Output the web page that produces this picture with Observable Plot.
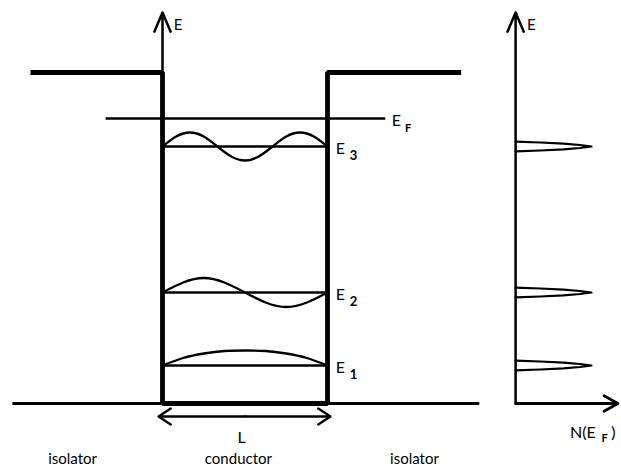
<!DOCTYPE html>
<html><head><meta charset="utf-8">
<script src="https://cdn.jsdelivr.net/npm/d3@7"></script>
<script src="https://cdn.jsdelivr.net/npm/@observablehq/plot@0.6"></script>
<style>body{margin:0;background:#fff}</style>
</head><body><div id="chart"></div>
<script>
// ---- Data (diagram units: well spans x = 0..L, energy in arbitrary units) ----
const wellLeft = 0;
const wellRight = 10;            // L
const barrierEnergy = 33.1;      // height of isolator barrier
const fermiEnergy = 28.5;        // E_F
const energyAxisTop = 39.1;
const isolatorExtent = [-8.0, 18.1];   // barrier tops, left start / right end
const groundExtent = [-9.1, 19.2];     // outside bottom lines
const fermiExtent = [-3.45, 13.5];

const levelNames = ["1", "2", "3"];
const levelEnergy = [3.8, 11.1, 25.7];

// wavefunction samples across the well (x, displacement above level)
const waveX1 = [0, 1.25, 2.5, 3.75, 5, 6.25, 7.5, 8.75, 10];
const wave1  = [0, 0.75, 1.2, 1.45, 1.5, 1.45, 1.2, 0.75, 0];
const waveX2 = [0, 1.25, 2.5, 3.75, 5, 6.25, 7.5, 8.75, 10];
const wave2  = [0, 1.0, 1.45, 1.0, 0, -1.0, -1.45, -1.0, 0];
const waveX3 = [0, 0.83, 1.67, 2.5, 3.33, 4.17, 5, 5.83, 6.67, 7.5, 8.33, 9.17, 10];
const wave3  = [0, 1.0, 1.4, 1.0, 0, -1.0, -1.4, -1.0, 0, 1.0, 1.4, 1.0, 0];

// density-of-states panel
const dosAxisX = 21.4;
const dosAxisEnd = 27.6;
const spikeN = [0, 1.5, 2.9, 3.9, 4.6];
const spikeHalfWidth = [0.48, 0.4, 0.28, 0.15, 0];

// labels
const energyLabel = "E";
const fermiSub = "F";
const lengthLabel = "L";
const conductorLabel = "conductor";
const isolatorLabel = "isolator";

// ---- Build geometry from data ----
const walls = [
  {x: isolatorExtent[0], y: barrierEnergy},
  {x: wellLeft, y: barrierEnergy},
  {x: wellLeft, y: 0},
  {x: wellRight, y: 0},
  {x: wellRight, y: barrierEnergy},
  {x: isolatorExtent[1], y: barrierEnergy}
];
const ground = [
  {x1: groundExtent[0], y1: 0, x2: wellLeft, y2: 0},
  {x1: wellRight, y1: 0, x2: groundExtent[1], y2: 0}
];
const levels = levelEnergy.map((e, i) => ({x1: wellLeft, x2: wellRight, y1: e, y2: e, name: levelNames[i]}));
const fermi = [{x1: fermiExtent[0], x2: fermiExtent[1], y1: fermiEnergy, y2: fermiEnergy}];
const waveSets = [[waveX1, wave1], [waveX2, wave2], [waveX3, wave3]];
const waves = waveSets.flatMap(([xs, ws], i) => xs.map((x, j) => ({x, y: levelEnergy[i] + ws[j], level: i})));
const spikes = levelEnergy.flatMap((e, i) => {
  const top = spikeN.map((n, j) => ({x: dosAxisX + n, y: e + spikeHalfWidth[j], level: i}));
  const bottom = [];
  for (let k = spikeN.length - 2; k >= 0; k--) bottom.push({x: dosAxisX + spikeN[k], y: e - spikeHalfWidth[k], level: i});
  return top.concat(bottom);
});
const axisArrows = [
  {x1: wellLeft, y1: 0, x2: wellLeft, y2: energyAxisTop},
  {x1: dosAxisX, y1: 0, x2: dosAxisX, y2: energyAxisTop}
];
const nArrow = [{x1: dosAxisX, y1: 0, x2: dosAxisEnd, y2: 0}];
const lY = -1.3;
const lMid = (wellLeft + wellRight) / 2;
const lArrows = [
  {x1: lMid, y1: lY, x2: wellLeft - 0.24, y2: lY},
  {x1: lMid, y1: lY, x2: wellRight + 0.18, y2: lY}
];

const font = "Lato, 'DejaVu Sans', sans-serif";
const txt = (data, opts) => Plot.text(data, {fill: "#000", fontFamily: font, fontWeight: "bold", ...opts});

const chart = Plot.plot({
  width: 621,
  height: 468,
  margin: 0,
  x: {domain: [-9.818, 27.818], range: [0, 621], axis: null},
  y: {domain: [0, energyAxisTop], range: [403, 12], axis: null},
  style: {background: "#fff", fontFamily: font},
  marks: [
    Plot.link(ground, {x1: "x1", y1: "y1", x2: "x2", y2: "y2", stroke: "#000", strokeWidth: 2.8}),
    Plot.arrow(axisArrows, {x1: "x1", y1: "y1", x2: "x2", y2: "y2", stroke: "#000", strokeWidth: 2.5, headLength: 12.5, headAngle: 46}),
    Plot.arrow(nArrow, {x1: "x1", y1: "y1", x2: "x2", y2: "y2", stroke: "#000", strokeWidth: 2.8, headLength: 8.5, headAngle: 58}),
    Plot.link(fermi, {x1: "x1", y1: "y1", x2: "x2", y2: "y2", stroke: "#000", strokeWidth: 2.3}),
    Plot.link(levels, {x1: "x1", y1: "y1", x2: "x2", y2: "y2", stroke: "#000", strokeWidth: 2.3}),
    Plot.line(waves, {x: "x", y: "y", z: "level", curve: "natural", stroke: "#000", strokeWidth: 2.3}),
    Plot.line(walls, {x: "x", y: "y", stroke: "#000", strokeWidth: 4.8, strokeLinejoin: "miter", strokeLinecap: "butt"}),
    Plot.line(spikes, {x: "x", y: "y", z: "level", curve: "linear", stroke: "#000", strokeWidth: 2.2}),
    Plot.arrow(lArrows, {x1: "x1", y1: "y1", x2: "x2", y2: "y2", stroke: "#000", strokeWidth: 2.3, headLength: 9.5, headAngle: 66}),
    // axis labels
    txt(axisArrows, {x: d => d.x2 + 0.95, y: energyAxisTop - 1.3, text: () => energyLabel, fontSize: 15, fontWeight: "normal"}),
    // Fermi level label
    txt(fermi, {x: d => d.x2 + 0.4, y: fermiEnergy - 0.2, text: () => energyLabel, fontSize: 16, fontWeight: "normal", textAnchor: "start"}),
    txt(fermi, {x: d => d.x2 + 1.2, y: fermiEnergy - 0.95, text: () => fermiSub, fontSize: 11, textAnchor: "start"}),
    // level labels
    txt(levels, {x: wellRight + 0.5, y: d => d.y1 - 0.2, text: () => energyLabel, fontSize: 16, fontWeight: "normal", textAnchor: "start"}),
    txt(levels, {x: wellRight + 1.35, y: d => d.y1 - 0.95, text: "name", fontSize: 13, textAnchor: "start"}),
    // L and region labels
    txt([lengthLabel], {x: lMid - 0.2, y: lY - 2.1, text: d => d, fontSize: 16, fontWeight: "normal"}),
    txt([conductorLabel], {x: lMid - 0.4, y: -5.6, text: d => d, fontSize: 15, fontWeight: "normal"}),
    txt([isolatorLabel], {x: -5.45, y: -5.6, text: d => d, fontSize: 15, fontWeight: "normal"}),
    txt([isolatorLabel], {x: 15.27, y: -5.6, text: d => d, fontSize: 15, fontWeight: "normal"}),
    // N(E_F) label
    txt(["N(E"], {x: dosAxisX + 3.3, y: -2.9, text: d => d, fontSize: 16, fontWeight: "normal", textAnchor: "start"}),
    txt([fermiSub], {x: dosAxisX + 5.2, y: -3.5, text: d => d, fontSize: 11, textAnchor: "start"}),
    txt([")"], {x: dosAxisX + 5.8, y: -2.9, text: d => d, fontSize: 16, fontWeight: "normal", textAnchor: "start"})
  ]
});
document.getElementById("chart").append(chart);
</script>
</body></html>
